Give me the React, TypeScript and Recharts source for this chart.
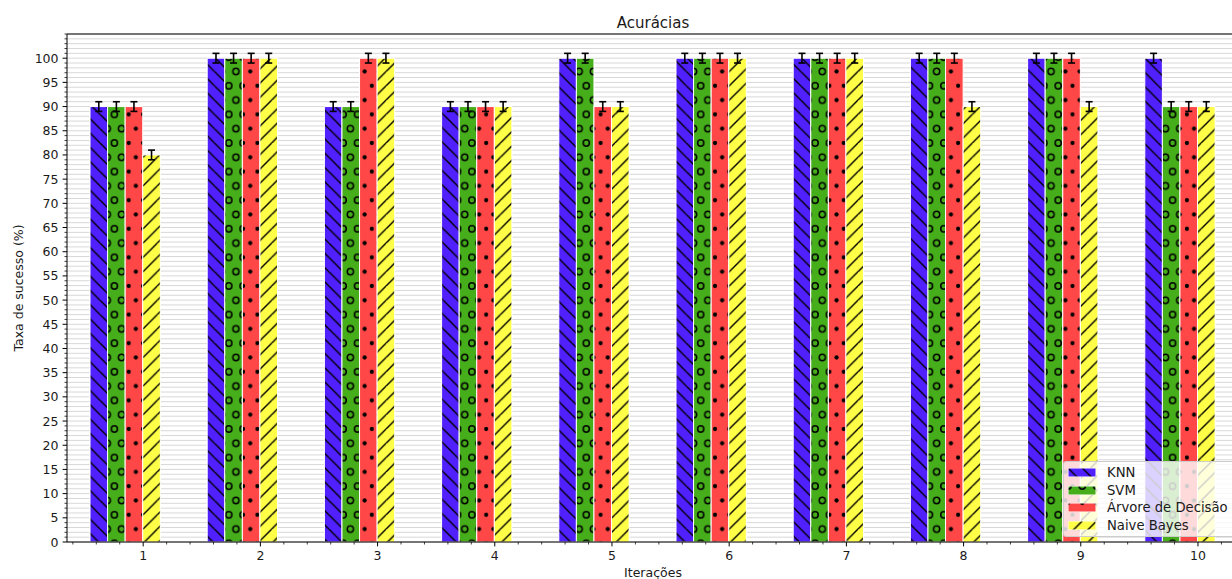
import React from 'react';
import {
  BarChart,
  Bar,
  XAxis,
  YAxis,
  CartesianGrid,
  ErrorBar,
  Label,
  ReferenceLine,
} from 'recharts';

// valores (acurácia em % por iteração)
const iteracoes = ['1', '2', '3', '4', '5', '6', '7', '8', '9', '10'];
const knn = [90, 100, 90, 90, 100, 100, 100, 100, 100, 100];
const svm = [90, 100, 90, 90, 100, 100, 100, 100, 100, 90];
const arvore = [90, 100, 100, 90, 90, 100, 100, 100, 100, 90];
const naiveBayes = [80, 100, 100, 90, 90, 100, 100, 90, 90, 90];
const erros = [1, 1, 1, 1, 1, 1, 1, 1, 1, 1];

const yTicks = Array.from({ length: 106 }, (_, i) => i);

const series = [
  { key: 'knn', name: 'KNN', values: knn, color: '#5020ff', pattern: 'pat-knn' },
  { key: 'svm', name: 'SVM', values: svm, color: '#46ae1a', pattern: 'pat-svm' },
  { key: 'arvore', name: 'Árvore de Decisão', values: arvore, color: '#ff4747', pattern: 'pat-arvore' },
  { key: 'nb', name: 'Naive Bayes', values: naiveBayes, color: '#ffff47', pattern: 'pat-nb' },
];

const data = iteracoes.map((it, i) => {
  const row: any = { it };
  series.forEach(s => {
    row[s.key] = s.values[i];
    row[s.key + 'Err'] = erros[i];
  });
  return row;
});

const FONT = 'DejaVu Sans, sans-serif';
const TEXT = '#1a1a1a';

const WIDTH = 1300;
const HEIGHT = 579;
const MARGIN = { top: 34, right: 61, bottom: 0, left: 7 };
const Y_AXIS_W = 60;
const X_AXIS_H = 37;
const PLOT_W = WIDTH - MARGIN.left - MARGIN.right - Y_AXIS_W;
const BAND = PLOT_W / iteracoes.length;
const BAR_SIZE = (BAND * 0.6) / series.length;
const LABEL_SHIFT = BAR_SIZE; // rótulo fica na borda esquerda da última barra
const MINOR_STEP = BAND * 0.2;
const HATCH = 14.3;

const Patterns = () => {
  const h = HATCH;
  const pts = [[0, 0], [h, 0], [0, 2 * h], [h, 2 * h], [h / 2, h]];
  return (
    <defs>
      <pattern id="pat-knn" patternUnits="userSpaceOnUse" width={h} height={h}>
        <rect width={h} height={h} fill={series[0].color} />
        <path
          d={`M0,0 L${h},${h} M${-h},0 L0,${h} M${h},${-h} L${2 * h},0 M${h},0 L${2 * h},${h} M0,${-h} L${h},0`}
          stroke="#000"
          strokeWidth={1.4}
        />
      </pattern>
      <pattern id="pat-svm" patternUnits="userSpaceOnUse" width={h} height={2 * h}>
        <rect width={h} height={2 * h} fill={series[1].color} />
        {pts.map(([cx, cy], i) => (
          <circle key={i} cx={cx} cy={cy} r={3.1} fill="none" stroke="#000" strokeWidth={1.5} />
        ))}
      </pattern>
      <pattern id="pat-arvore" patternUnits="userSpaceOnUse" width={h} height={2 * h}>
        <rect width={h} height={2 * h} fill={series[2].color} />
        {pts.map(([cx, cy], i) => (
          <circle key={i} cx={cx} cy={cy} r={2.1} fill="#000" />
        ))}
      </pattern>
      <pattern id="pat-nb" patternUnits="userSpaceOnUse" width={h} height={h}>
        <rect width={h} height={h} fill={series[3].color} />
        <path
          d={`M0,${h} L${h},0 M${-h},${h} L0,0 M${h},${2 * h} L${2 * h},${h} M${h},${h} L${2 * h},0 M0,${2 * h} L${h},${h}`}
          stroke="#000"
          strokeWidth={1.4}
        />
      </pattern>
    </defs>
  );
};

const YTick = ({ x, y, payload }: any) => {
  const v = payload.value;
  const major = v % 5 === 0 && v <= 100;
  return (
    <g>
      <line x1={x - (major ? 4.4 : 2.5)} x2={x} y1={y} y2={y} stroke="#000" strokeWidth={major ? 1 : 0.75} />
      {major && (
        <text x={x - 8.5} y={y} dy="0.36em" textAnchor="end" fontSize={12.5} fontFamily={FONT} fill={TEXT}>
          {v}
        </text>
      )}
    </g>
  );
};

const XTick = ({ x, y, payload }: any) => {
  const cx = x + LABEL_SHIFT;
  return (
    <g>
      <line x1={cx} x2={cx} y1={y} y2={y + 4.4} stroke="#000" strokeWidth={1} />
      {[-3, -2, -1, 1].map(k => (
        <line
          key={k}
          x1={cx + k * MINOR_STEP}
          x2={cx + k * MINOR_STEP}
          y1={y}
          y2={y + 2.5}
          stroke="#000"
          strokeWidth={0.75}
        />
      ))}
      <text x={cx} y={y + 18} textAnchor="middle" fontSize={12.5} fontFamily={FONT} fill={TEXT}>
        {payload.value}
      </text>
    </g>
  );
};

const Legenda = () => (
  <div
    style={{
      position: 'absolute',
      left: 1063,
      top: 461,
      width: 200,
      height: 76,
      background: 'rgba(255,255,255,0.8)',
      border: '1px solid #cccccc',
      borderRadius: 3,
      boxSizing: 'border-box',
    }}
  >
    {series.map((s, i) => (
      <div
        key={s.key}
        style={{
          position: 'absolute',
          left: 4,
          top: 1.5 + i * 17.7,
          height: 17.7,
          display: 'flex',
          alignItems: 'center',
          whiteSpace: 'nowrap',
        }}
      >
        <svg width={28} height={9} style={{ display: 'block' }}>
          <rect x={0} y={0} width={28} height={9} fill={`url(#${s.pattern})`} stroke="#fff" strokeWidth={1} />
        </svg>
        <span style={{ marginLeft: 11, fontFamily: FONT, fontSize: 13.2, color: TEXT }}>{s.name}</span>
      </div>
    ))}
  </div>
);

export default function App() {
  return (
    <div
      style={{
        position: 'fixed',
        left: 0,
        top: 0,
        width: 1232,
        height: 579,
        overflow: 'hidden',
        background: '#fff',
      }}
    >
      <BarChart
        width={WIDTH}
        height={HEIGHT}
        data={data}
        margin={MARGIN}
        barGap={0}
        barSize={BAR_SIZE}
      >
        <Patterns />
        <text
          x={MARGIN.left + Y_AXIS_W + PLOT_W / 2}
          y={27.7}
          textAnchor="middle"
          fontSize={15}
          fontFamily={FONT}
          fill={TEXT}
        >
          Acurácias
        </text>
        <CartesianGrid vertical={false} stroke="#d8d8d8" strokeWidth={1} />
        <XAxis
          dataKey="it"
          height={X_AXIS_H}
          tickLine={false}
          tickSize={0}
          tickMargin={0}
          interval={0}
          axisLine={{ stroke: '#000', strokeWidth: 1 }}
          tick={<XTick />}
        >
          <Label
            value="Iterações"
            position="insideBottom"
            offset={2.5}
            style={{ fontFamily: FONT, fontSize: 12.5, fill: TEXT }}
          />
        </XAxis>
        <YAxis
          width={Y_AXIS_W}
          domain={[0, 105]}
          ticks={yTicks}
          interval={0}
          tickLine={false}
          tickSize={0}
          tickMargin={0}
          allowDataOverflow
          axisLine={{ stroke: '#000', strokeWidth: 1 }}
          tick={<YTick />}
        >
          <Label
            value="Taxa de sucesso (%)"
            angle={-90}
            position="insideLeft"
            offset={11.5}
            style={{ fontFamily: FONT, fontSize: 12.5, fill: TEXT, textAnchor: 'middle' }}
          />
        </YAxis>
        <ReferenceLine y={105} stroke="#000" strokeWidth={1} />
        {series.map(s => (
          <Bar
            key={s.key}
            dataKey={s.key}
            name={s.name}
            fill={`url(#${s.pattern})`}
            stroke="#fff"
            strokeWidth={1}
            isAnimationActive={false}
          >
            <ErrorBar dataKey={s.key + 'Err'} width={3.5} stroke="#000" strokeWidth={1.6} />
          </Bar>
        ))}
      </BarChart>
      <Legenda />
    </div>
  );
}
